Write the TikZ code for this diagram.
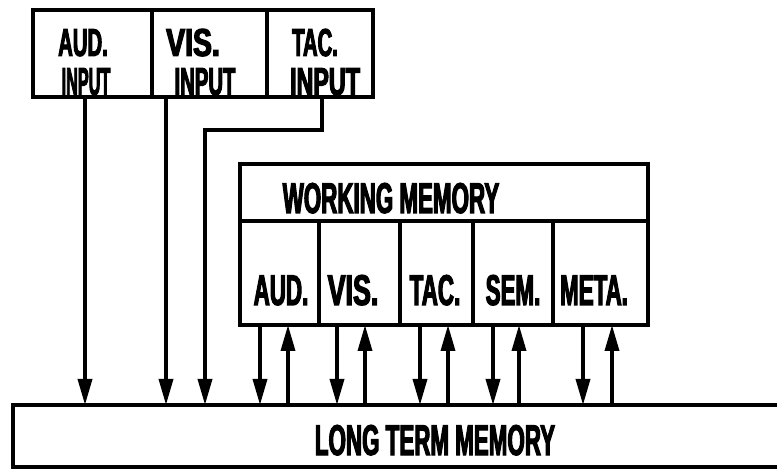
\documentclass[tikz,border=0pt]{standalone}
\usepackage{fontspec}
\newfontfamily\lettering[FakeStretch=0.52,FakeBold=2.5]{Liberation Sans Bold}
\usetikzlibrary{arrows.meta}
\begin{document}
\begin{tikzpicture}[x=1pt,y=-1pt,
  box/.style={draw, line width=4pt, outer sep=0pt, inner sep=0pt, anchor=north west},
  lbl/.style={inner sep=0pt, anchor=base, font=\lettering\fontsize{43}{45}\selectfont},
  toplbl/.style={inner sep=0pt, anchor=base, font=\lettering\fontsize{39}{41}\selectfont},
  arr/.style={line width=3.5pt, -{Triangle[length=26pt,width=14pt]}},
  ]
\useasboundingbox (0,0) rectangle (777,470);
\fill[white] (0,0) rectangle (777,470);
\clip (0,0) rectangle (777,470);

% input boxes
\node[box, minimum width=119pt, minimum height=87pt] (aI) at (33,10) {};
\node[box, minimum width=115pt, minimum height=87pt] (vI) at (152,10) {};
\node[box, minimum width=106pt, minimum height=87pt] (tI) at (267,10) {};

% working memory
\node[box, minimum width=408pt, minimum height=57pt] (wm) at (240,164) {};
\node[box, minimum width=79pt, minimum height=104pt] (wa) at (240,221) {};
\node[box, minimum width=81pt, minimum height=104pt] (wv) at (319,221) {};
\node[box, minimum width=73pt, minimum height=104pt] (wt) at (400,221) {};
\node[box, minimum width=80pt, minimum height=104pt] (ws) at (473,221) {};
\node[box, minimum width=95pt, minimum height=104pt] (wme) at (553,221) {};

% long term memory
\node[box, minimum width=800pt, minimum height=62pt] (ltm) at (13,405) {};

% labels
\node[toplbl] (la1) at (83,56) {AUD.};
\node[toplbl] (la2) at (86,95) {\scalebox{0.8}[1]{INPUT}};
\node[toplbl] (lv1) at (193,56) {\scalebox{1.4}[1]{VIS.}};
\node[toplbl] (lv2) at (205,95) {\scalebox{1.0}[1]{INPUT}};
\node[toplbl] (lt1) at (315,56) {TAC.};
\node[toplbl] (lt2) at (325,95) {\scalebox{1.15}[1]{INPUT}};
\node[lbl] (lwm) at (391,213) {WORKING MEMORY};
\node[lbl] (lwa) at (281,305) {AUD.};
\node[lbl] (lwv) at (353,305) {\scalebox{1.2}[1]{VIS.}};
\node[lbl] (lwt) at (435,305) {TAC.};
\node[lbl] (lws) at (513,305) {SEM.};
\node[lbl] (lwme) at (594,305) {META.};
\node[lbl] (lltm) at (435,455) {LONG TERM MEMORY};

% x positions
\coordinate (xa) at (85,0);
\coordinate (xv) at (166,0);
\coordinate (xt) at (322,0);
\coordinate (tbend) at (205,130);
\coordinate (d1) at (260,0);  \coordinate (u1) at (288,0);
\coordinate (d2) at (337,0);  \coordinate (u2) at (365,0);
\coordinate (d3) at (420,0);  \coordinate (u3) at (448,0);
\coordinate (d4) at (493,0);  \coordinate (u4) at (519,0);
\coordinate (d5) at (583,0);  \coordinate (u5) at (612,0);

% input connectors
\draw[arr] (aI.south -| xa) -- (ltm.north -| xa);
\draw[arr] (vI.south -| xv) -- (ltm.north -| xv);
\draw[arr] (tI.south -| xt) |- (tbend) -- (ltm.north -| tbend);

% working memory <-> long term memory
\draw[arr] (wa.south -| d1) -- (ltm.north -| d1);
\draw[arr] (ltm.north -| u1) -- (wa.south -| u1);
\draw[arr] (wv.south -| d2) -- (ltm.north -| d2);
\draw[arr] (ltm.north -| u2) -- (wv.south -| u2);
\draw[arr] (wt.south -| d3) -- (ltm.north -| d3);
\draw[arr] (ltm.north -| u3) -- (wt.south -| u3);
\draw[arr] (ws.south -| d4) -- (ltm.north -| d4);
\draw[arr] (ltm.north -| u4) -- (ws.south -| u4);
\draw[arr] (wme.south -| d5) -- (ltm.north -| d5);
\draw[arr] (ltm.north -| u5) -- (wme.south -| u5);
\end{tikzpicture}
\end{document}
